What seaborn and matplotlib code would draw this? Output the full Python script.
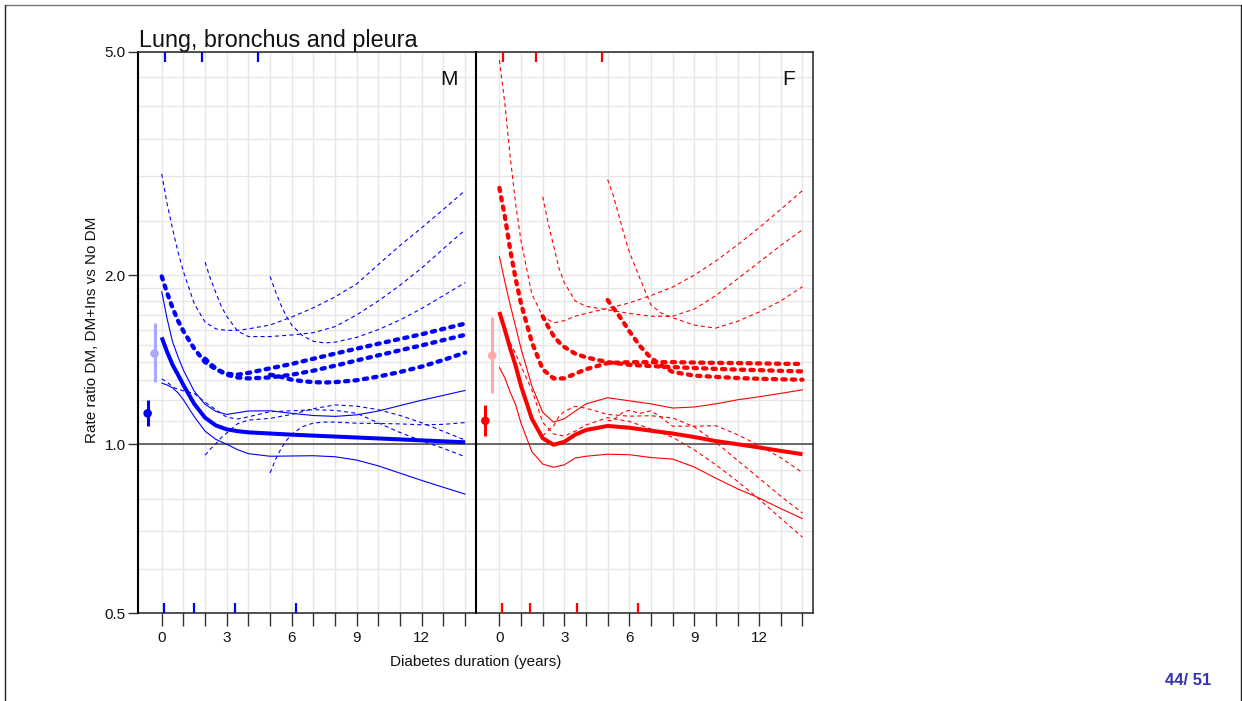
import matplotlib
matplotlib.use("Agg")
import matplotlib.pyplot as plt
from matplotlib.lines import Line2D
from matplotlib.ticker import NullLocator
import seaborn as sns

# ---------------------------------------------------------------- data
# diabetes duration grids (years)
x_dur = [0, 0.25, 0.5, 0.75, 1, 1.5, 2, 2.5, 3, 3.5, 4, 5, 6, 7, 8, 9, 10, 11, 12, 13, 14]
x_ins2 = [2, 2.25, 2.5, 2.75, 3, 3.5, 4, 5, 6, 7, 8, 9, 10, 11, 12, 13, 14]
x_ins5 = [5, 5.25, 5.5, 5.75, 6, 6.5, 7, 7.5, 8, 9, 10, 11, 12, 13, 14]

# Men: DM vs No DM
m_dm = [1.55, 1.46, 1.385, 1.33, 1.275, 1.18, 1.115, 1.08, 1.063, 1.055, 1.05,
        1.045, 1.04, 1.036, 1.032, 1.028, 1.024, 1.02, 1.016, 1.012, 1.008]
m_dm_lo = [1.285, 1.275, 1.26, 1.235, 1.20, 1.12, 1.055, 1.02, 1.0, 0.978, 0.962,
           0.952, 0.953, 0.954, 0.95, 0.937, 0.915, 0.888, 0.862, 0.838, 0.815]
m_dm_hi = [1.87, 1.672, 1.522, 1.432, 1.355, 1.243, 1.178, 1.144, 1.13, 1.138, 1.146,
           1.147, 1.135, 1.125, 1.121, 1.128, 1.146, 1.172, 1.198, 1.222, 1.247]
# Men: DM+Ins, insulin from diagnosis
m_i0 = [1.99, 1.86, 1.75, 1.66, 1.59, 1.48, 1.40, 1.36, 1.335, 1.33, 1.34,
        1.365, 1.39, 1.42, 1.45, 1.48, 1.51, 1.54, 1.57, 1.605, 1.64]
m_i0_lo = [1.307, 1.291, 1.265, 1.253, 1.245, 1.231, 1.188, 1.152, 1.117, 1.109, 1.119,
           1.143, 1.147, 1.152, 1.149, 1.135, 1.091, 1.049, 1.014, 0.983, 0.950]
m_i0_hi = [3.03, 2.68, 2.42, 2.2, 2.03, 1.78, 1.65, 1.605, 1.595, 1.595, 1.605,
           1.63, 1.685, 1.75, 1.83, 1.93, 2.09, 2.26, 2.43, 2.62, 2.83]
# Men: DM+Ins, insulin from 2 years
m_i2 = [1.42, 1.39, 1.365, 1.345, 1.33, 1.315, 1.31, 1.315, 1.33, 1.352, 1.38,
        1.41, 1.44, 1.47, 1.50, 1.533, 1.566]
m_i2_lo = [0.956, 0.981, 1.002, 1.028, 1.047, 1.088, 1.104, 1.112, 1.130, 1.157, 1.175,
           1.169, 1.152, 1.125, 1.092, 1.054, 1.017]
m_i2_hi = [2.11, 1.97, 1.86, 1.76, 1.69, 1.59, 1.555, 1.555, 1.565, 1.58, 1.62,
           1.70, 1.80, 1.92, 2.06, 2.23, 2.41]
# Men: DM+Ins, insulin from 5 years
m_i5 = [1.33, 1.325, 1.318, 1.31, 1.303, 1.295, 1.29, 1.288, 1.29, 1.30, 1.32,
        1.345, 1.375, 1.413, 1.456]
m_i5_lo = [0.889, 0.939, 0.981, 1.015, 1.042, 1.075, 1.091, 1.095, 1.095, 1.09, 1.089,
           1.087, 1.083, 1.085, 1.093]
m_i5_hi = [1.99, 1.87, 1.77, 1.69, 1.63, 1.56, 1.525, 1.515, 1.52, 1.55, 1.60,
           1.665, 1.745, 1.84, 1.94]

# Women: DM vs No DM
f_dm = [1.72, 1.60, 1.48, 1.38, 1.27, 1.11, 1.025, 0.998, 1.01, 1.04, 1.06,
        1.078, 1.07, 1.057, 1.045, 1.03, 1.013, 1.0, 0.987, 0.973, 0.96]
f_dm_lo = [1.37, 1.313, 1.238, 1.176, 1.09, 0.970, 0.922, 0.910, 0.919, 0.945, 0.952,
           0.960, 0.958, 0.947, 0.941, 0.911, 0.870, 0.833, 0.802, 0.768, 0.737]
f_dm_hi = [2.16, 1.95, 1.77, 1.62, 1.48, 1.27, 1.14, 1.095, 1.11, 1.145, 1.18,
           1.21, 1.195, 1.18, 1.16, 1.165, 1.18, 1.20, 1.215, 1.232, 1.25]
# Women: DM+Ins, insulin from diagnosis
f_i0 = [2.86, 2.55, 2.22, 1.97, 1.78, 1.52, 1.36, 1.31, 1.31, 1.335, 1.36,
        1.395, 1.40, 1.40, 1.40, 1.398, 1.396, 1.395, 1.393, 1.391, 1.39]
f_i0_lo = [1.693, 1.605, 1.517, 1.448, 1.378, 1.249, 1.094, 1.043, 1.034, 1.055, 1.082,
           1.115, 1.098, 1.065, 1.029, 0.977, 0.919, 0.859, 0.798, 0.738, 0.683]
f_i0_hi = [4.83, 4.05, 3.25, 2.68, 2.30, 1.85, 1.69, 1.645, 1.66, 1.69, 1.71,
           1.745, 1.785, 1.84, 1.905, 2.0, 2.12, 2.265, 2.43, 2.62, 2.83]
# Women: DM+Ins, insulin from 2 years
f_i2 = [1.69, 1.62, 1.56, 1.52, 1.49, 1.45, 1.428, 1.40, 1.385, 1.378, 1.372,
        1.367, 1.362, 1.358, 1.355, 1.351, 1.348]
f_i2_lo = [1.035, 1.058, 1.077, 1.121, 1.144, 1.168, 1.159, 1.13, 1.122, 1.124, 1.114,
           1.074, 1.008, 0.936, 0.870, 0.808, 0.754]
f_i2_hi = [2.76, 2.48, 2.26, 2.06, 1.94, 1.80, 1.76, 1.735, 1.71, 1.69, 1.69,
           1.74, 1.84, 1.97, 2.11, 2.26, 2.41]
# Women: DM+Ins, insulin from 5 years
f_i5 = [1.806, 1.75, 1.70, 1.645, 1.59, 1.495, 1.425, 1.38, 1.345, 1.325, 1.318,
        1.312, 1.308, 1.305, 1.303]
f_i5_lo = [1.102, 1.102, 1.125, 1.142, 1.149, 1.135, 1.147, 1.114, 1.077, 1.077, 1.079,
           1.040, 0.995, 0.946, 0.890]
f_i5_hi = [2.96, 2.78, 2.57, 2.37, 2.2, 1.97, 1.77, 1.71, 1.68, 1.63, 1.61,
           1.655, 1.72, 1.80, 1.908]

# overall rate ratios (DM, DM+Ins) shown left of the curves
pt_x = [-0.65, -0.33]
m_pt = [1.135, 1.45]
m_pt_lo = [1.078, 1.29]
m_pt_hi = [1.199, 1.643]
f_pt = [1.101, 1.438]
f_pt_lo = [1.035, 1.232]
f_pt_hi = [1.175, 1.687]

# rug marks (durations)
m_rug_top = [0.15, 1.85, 4.46]
m_rug_bot = [0.12, 1.48, 3.37, 6.18]
f_rug_top = [0.16, 1.71, 4.75]
f_rug_bot = [0.14, 1.42, 3.57, 6.41]

y_ticks = [0.5, 1.0, 2.0, 5.0]
y_tick_labels = ["0.5", "1.0", "2.0", "5.0"]
x_ticks = list(range(0, 15))
x_labelled = [0, 3, 6, 9, 12]
y_grid = [0.5, 0.6, 0.7, 0.8, 0.9, 1.0, 1.1, 1.2, 1.3, 1.4, 1.5, 1.6, 1.7, 1.8,
          1.9, 2.0, 2.5, 3.0, 3.5, 4.0, 4.5, 5.0]

# ---------------------------------------------------------------- style
sns.set_style("white")
plt.rcParams["font.family"] = ["Liberation Sans", "DejaVu Sans"]

STYLES = {
    "est": dict(lw=2.9, ls="-", solid_capstyle="butt"),
    "ci": dict(lw=0.8, ls="-"),
    "ins": dict(lw=3.1, ls=(0, (0.75, 1.45)), dash_capstyle="round"),
    "ins_ci": dict(lw=0.8, ls=(0, (3.6, 2.9))),
}


def curve(ax, xs, ys, color, kind):
    sns.lineplot(x=xs, y=ys, ax=ax, color=color, estimator=None, sort=False,
                 legend=False, zorder=3, **STYLES[kind])


def panel(ax, color, light, groups, pts, rug_top, rug_bot, tag, first):
    ax.set_yscale("log")
    ax.set_xlim(-1.08, 14.5)
    ax.set_ylim(0.5, 5.0)
    for gx in x_ticks:
        ax.axvline(gx, color="#e6e6e6", lw=1.0, zorder=0)
    for gy in y_grid:
        ax.axhline(gy, color="#e6e6e6", lw=1.0, zorder=0)
    ax.axhline(1.0, color="#444444", lw=1.1, zorder=2)

    (dm, dm_lo, dm_hi), ins_sets = groups
    curve(ax, x_dur, dm_lo, color, "ci")
    curve(ax, x_dur, dm_hi, color, "ci")
    curve(ax, x_dur, dm, color, "est")
    for xs, est, lo, hi in ins_sets:
        curve(ax, xs, lo, color, "ins_ci")
        curve(ax, xs, hi, color, "ins_ci")
        curve(ax, xs, est, color, "ins")

    p, p_lo, p_hi = pts
    for i, c in enumerate([color, light]):
        ax.vlines(pt_x[i], p_lo[i], p_hi[i], color=c, lw=2.2, zorder=4)
        sns.scatterplot(x=[pt_x[i]], y=[p[i]], ax=ax, color=c, s=38,
                        edgecolor="none", zorder=5, legend=False)

    ax.vlines(rug_top, 0.981, 1.0, transform=ax.get_xaxis_transform(),
              color=color, lw=1.6, zorder=4)
    ax.vlines(rug_bot, 0.0, 0.019, transform=ax.get_xaxis_transform(),
              color=color, lw=1.6, zorder=4)

    ax.text(0.947, 0.941, tag, transform=ax.transAxes, ha="right",
            va="baseline", fontsize=15, color="#111111")

    ax.set_xticks(x_ticks)
    ax.set_xticklabels([str(t) if t in x_labelled else "" for t in x_ticks])
    ax.tick_params(axis="x", which="major", bottom=True, top=False,
                   direction="out", length=9, width=1.0, color="#333333",
                   labelsize=11, pad=4, labelcolor="#111111")
    ax.yaxis.set_minor_locator(NullLocator())
    ax.xaxis.set_minor_locator(NullLocator())
    if first:
        ax.set_yticks(y_ticks)
        ax.set_yticklabels(y_tick_labels)
        ax.tick_params(axis="y", which="major", left=True, right=False,
                       direction="out", length=7, width=1.0, color="#333333",
                       labelsize=11, pad=2, labelcolor="#111111")
    else:
        ax.set_yticks([])
    for name, sp in ax.spines.items():
        sp.set_visible(True)
        sp.set_color("#222222")
        sp.set_linewidth(1.1)
    ax.spines["left"].set_color("#000000")
    ax.spines["left"].set_linewidth(1.5)
    ax.set_xlabel("")
    ax.set_ylabel("")


fig = plt.figure(figsize=(12.42, 7.01), dpi=100)
W, H = 1242.0, 701.0
ax_m = fig.add_axes([138.3 / W, 1 - 613.3 / H, 337.7 / W, 561.6 / H])
ax_f = fig.add_axes([476.0 / W, 1 - 613.3 / H, 337.3 / W, 561.6 / H])

panel(ax_m, "#0000ff", "#a8a8ff",
      ((m_dm, m_dm_lo, m_dm_hi),
       [(x_dur, m_i0, m_i0_lo, m_i0_hi),
        (x_ins2, m_i2, m_i2_lo, m_i2_hi),
        (x_ins5, m_i5, m_i5_lo, m_i5_hi)]),
      (m_pt, m_pt_lo, m_pt_hi), m_rug_top, m_rug_bot, "M", True)
panel(ax_f, "#ff0000", "#ffaaaa",
      ((f_dm, f_dm_lo, f_dm_hi),
       [(x_dur, f_i0, f_i0_lo, f_i0_hi),
        (x_ins2, f_i2, f_i2_lo, f_i2_hi),
        (x_ins5, f_i5, f_i5_lo, f_i5_hi)]),
      (f_pt, f_pt_lo, f_pt_hi), f_rug_top, f_rug_bot, "F", False)

fig.text(139.0 / W, 1 - 46.7 / H, "Lung, bronchus and pleura", fontsize=16.8,
         ha="left", va="baseline", color="#111111")
fig.text(92.0 / W, 1 - 330.0 / H, "Rate ratio DM, DM+Ins vs No DM",
         rotation=90, fontsize=11, ha="center", va="center", color="#111111")
fig.text(476.0 / W, 1 - 662.0 / H, "Diabetes duration (years)", fontsize=11,
         ha="center", va="center", color="#111111")
fig.text(1211.0 / W, 1 - 685.0 / H, "44/ 51", fontsize=12, fontweight="bold",
         ha="right", va="baseline", color="#3333b3")

# slide frame
fig.add_artist(Line2D([4.5 / W, 1240.5 / W], [1 - 4.5 / H, 1 - 4.5 / H],
                      transform=fig.transFigure, color="#777777", lw=1.0))
fig.add_artist(Line2D([4.5 / W, 4.5 / W], [0, 1 - 4.5 / H],
                      transform=fig.transFigure, color="#222222", lw=1.0))
fig.add_artist(Line2D([1240.5 / W, 1240.5 / W], [0, 1 - 4.5 / H],
                      transform=fig.transFigure, color="#222222", lw=1.0))

fig.savefig("out.png", dpi=100)
